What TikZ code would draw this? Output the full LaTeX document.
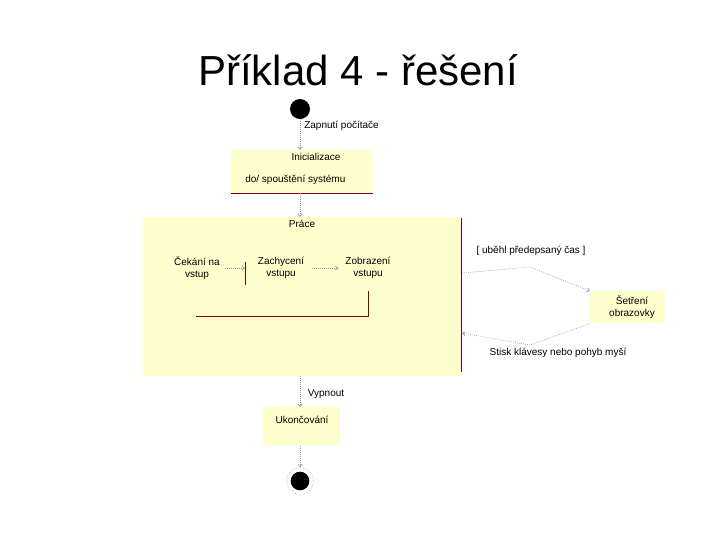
\documentclass[tikz,border=0pt]{standalone}
\usepackage{fontspec}
\setmainfont{Liberation Sans}
\usetikzlibrary{arrows.meta}
\definecolor{stfill}{RGB}{255,255,206}
\definecolor{edge}{RGB}{128,0,16}
\definecolor{faint}{RGB}{150,150,150}
\begin{document}
\begin{tikzpicture}[x=0.75pt,y=-0.75pt,
  lbl/.style={font=\fontsize{7.5}{9}\selectfont, inner sep=0pt, align=center},
  statebox/.style={fill=stfill, draw=none, inner sep=0pt},
  trans/.style={draw=faint, densely dotted, line width=0.5pt, -{Straight Barb[length=2pt,width=3pt]}},
  redline/.style={draw=edge, line width=0.7pt}]
\useasboundingbox (0,0) rectangle (720,540);
% title
\node[font=\fontsize{31.5}{36}\selectfont, inner sep=0pt] (title) at (358,70) {Příklad 4 - řešení};
% initial
\node[circle, fill=black, minimum size=15pt, inner sep=0pt] (start) at (300,109) {};
\node[lbl, anchor=west] (zapnuti) at (304,126) {Zapnutí počítače};
% init box
\node[statebox, minimum width=106pt, minimum height=32pt, anchor=north west] (init) at (231,150) {};
\draw[redline] (init.south west) -- (init.south east);
\node[lbl] (inittitle) at (316,157) {Inicializace};
\node[lbl, anchor=west] (initdo) at (245,180) {do/ spouštění systému};
\draw[trans] (start) -- (init.north -| start);
% prace box
\node[statebox, minimum width=238.5pt, minimum height=119pt, anchor=north west] (prace) at (143,217) {};
\draw[redline] ([yshift=-1pt]prace.north east) -- ([yshift=3pt]prace.south east);
\node[lbl] (pracetitle) at (302,224) {Práce};
\draw[trans] (init.south -| start) -- (prace.north -| start);
% inner states
\node[lbl] (cekani) at (197,268) {Čekání na\\vstup};
\node[lbl] (zachyceni) at (281,268) {Zachycení\\vstupu};
\node[lbl] (zobrazeni) at (368,268) {Zobrazení\\vstupu};
\coordinate (barT) at (245,262);
\coordinate (barB) at (245,285);
\draw[redline] (barT) -- (barB);
\coordinate (loopA) at (368,291);
\coordinate (loopB) at (368,316);
\coordinate (loopC) at (196,316);
\draw[redline] (loopA) -- (loopB) -- (loopC);
\draw[trans] (cekani.east) ++(4pt,0) -- (barB |- cekani);
\draw[trans] (zachyceni.east) ++(6pt,0) -- ([xshift=-5pt]zobrazeni.west);
% screen saver
\node[statebox, minimum width=56pt, minimum height=24pt, anchor=north west] (setreni) at (590,291) {};
\node[lbl] (setrenitext) at (632,307) {Šetření\\obrazovky};
\node[lbl] (ubehl) at (531,251) {[ uběhl předepsaný čas ]};
\node[lbl] (stisk) at (558,353) {Stisk klávesy nebo pohyb myší};
\coordinate (p1) at (462,273);
\coordinate (p2) at (530,267);
\coordinate (q1) at (530,345);
\coordinate (q2) at (462,333);
\draw[trans] (p1) -- (p2) -- (setreni.north west);
\draw[trans] (setreni.south west) -- (q1) -- (q2);
% end
\node[lbl] (vypnout) at (326,394) {Vypnout};
\node[statebox, minimum width=57.75pt, minimum height=28.5pt, anchor=north west] (ukon) at (263,407) {};
\node[lbl] (ukontext) at (302,420) {Ukončování};
\draw[trans] (prace.south -| start) -- (ukon.north -| start);
\node[circle, fill=black, minimum size=14pt, inner sep=0pt] (endd) at (300,481) {};
\node[circle, draw=faint, densely dotted, minimum size=20pt, inner sep=0pt] (endring) at (300,481) {};
\draw[trans] (ukon.south -| start) -- (endring.north);
\end{tikzpicture}
\end{document}
